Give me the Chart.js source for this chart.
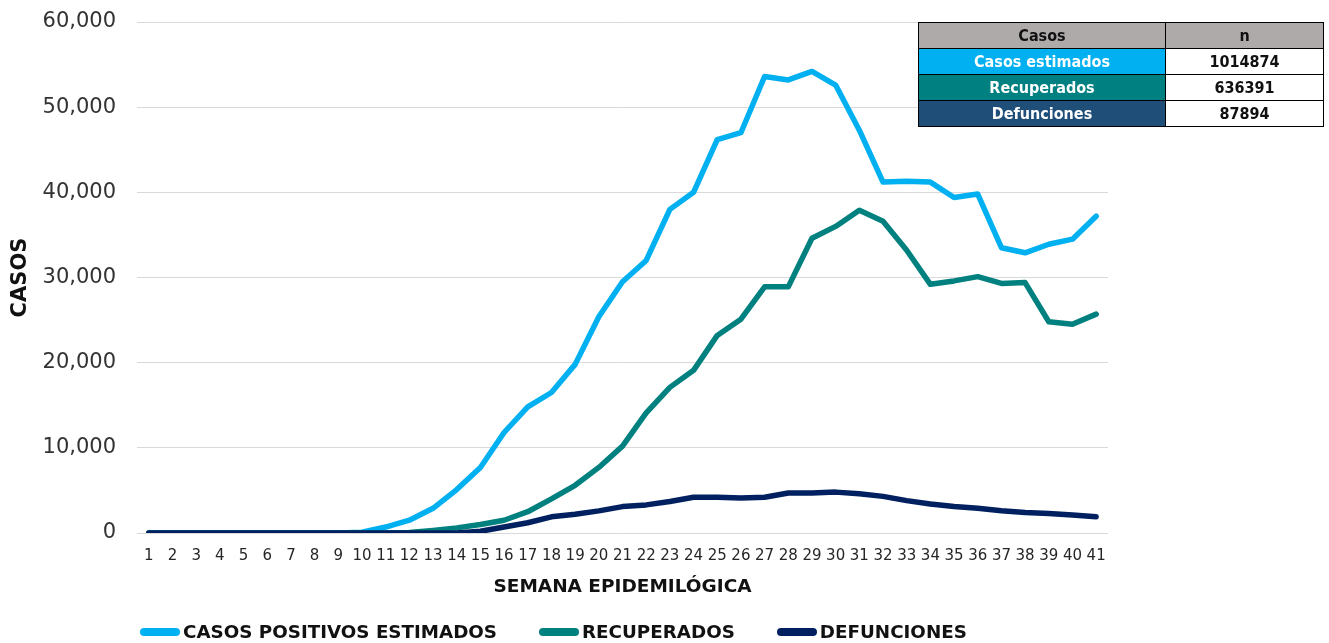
<!DOCTYPE html>
<html lang="es">
<head>
<meta charset="utf-8">
<title>Casos por semana epidemiológica</title>
<script src="https://cdn.jsdelivr.net/npm/chart.js@4/dist/chart.umd.min.js"></script>
<style>
    html, body { margin: 0; padding: 0; background: #fff; }
    #wrap { position: relative; width: 1329px; height: 643px; overflow: hidden; }
    #chart { position: absolute; left: 0; top: 0; }
    #resumen {
        position: absolute; left: 918px; top: 22px;
        border-collapse: collapse;
        font-family: "Liberation Sans Narrow", "DejaVu Sans Condensed", sans-serif;
        font-weight: bold; font-size: 16px;
    }
    #resumen td, #resumen th {
        border: 1px solid #000; height: 25px; padding: 0; text-align: center;
    }
    #resumen th { background: #aeaaaa; color: #111; font-weight: bold; }
    #resumen td.lbl { width: 246px; color: #fff; }
    #resumen td.val { width: 157px; color: #111; background: #fff; }
    #legend {
        position: absolute; left: 140px; top: 621px; display: flex;
        font-family: "DejaVu Sans", sans-serif;
        font-weight: bold; font-size: 18.3px; color: #111;
    }
    .item { display: flex; align-items: center; margin-right: 42px; }
    .swatch { width: 40px; height: 8px; border-radius: 4px; margin-right: 3px; }
</style>
</head>
<body>
<div id="wrap">
    <canvas id="chart" width="1329" height="643"></canvas>
    <table id="resumen"></table>
    <div id="legend"></div>
</div>
<script>
// Semanas epidemiológicas (etiquetas del eje x)
const semanas = ['1', '2', '3', '4', '5', '6', '7', '8', '9', '10',
    '11', '12', '13', '14', '15', '16', '17', '18', '19', '20',
    '21', '22', '23', '24', '25', '26', '27', '28', '29', '30',
    '31', '32', '33', '34', '35', '36', '37', '38', '39', '40', '41'];

const casosEstimados = [0, 0, 0, 0, 0, 0, 0, 0, 0, 100,
    700, 1500, 2900, 5100, 7700, 11800, 14800, 16500, 19800, 25400,
    29500, 32000, 38000, 40000, 46200, 47000, 53600, 53200, 54200, 52600,
    47300, 41200, 41300, 41200, 39400, 39800, 33500, 32900, 33900, 34500, 37200];

const recuperados = [0, 0, 0, 0, 0, 0, 0, 0, 0, 0,
    0, 50, 300, 600, 1000, 1500, 2500, 4000, 5600, 7700,
    10200, 14100, 17100, 19100, 23200, 25100, 28900, 28900, 34600, 36000,
    37900, 36600, 33200, 29200, 29600, 30100, 29300, 29400, 24800, 24500, 25700];

const defunciones = [0, 0, 0, 0, 0, 0, 0, 0, 0, 0,
    0, 0, 0, 0, 200, 700, 1200, 1900, 2200, 2600,
    3100, 3300, 3700, 4200, 4200, 4100, 4200, 4700, 4700, 4800,
    4600, 4300, 3800, 3400, 3100, 2900, 2600, 2400, 2300, 2100, 1900];

const yTicks = [0, 10000, 20000, 30000, 40000, 50000, 60000];

// Tabla resumen
const tablaEtiquetas = ['Casos estimados', 'Recuperados', 'Defunciones'];
const tablaValores = [1014874, 636391, 87894];
const tablaColores = ['#00b0f0', '#008080', '#1f4e79'];

const series = [
    { label: 'CASOS POSITIVOS ESTIMADOS', data: casosEstimados, color: '#00b0f0', order: 3 },
    { label: 'RECUPERADOS', data: recuperados, color: '#00807f', order: 2 },
    { label: 'DEFUNCIONES', data: defunciones, color: '#002060', order: 1 },
];

document.addEventListener('DOMContentLoaded', () => {
    buildTable();
    buildLegend();
    buildChart();
});

function buildTable() {
    const table = document.getElementById('resumen');
    let html = '<tr><th>Casos</th><th>n</th></tr>';
    tablaEtiquetas.forEach((lbl, i) => {
        html += `<tr><td class="lbl" style="background:${tablaColores[i]}">${lbl}</td>` +
                `<td class="val">${tablaValores[i]}</td></tr>`;
    });
    table.innerHTML = html;
}

function buildLegend() {
    document.getElementById('legend').innerHTML = series.map(s => `
        <div class="item"><span class="swatch" style="background:${s.color}"></span>${s.label}</div>
    `).join('');
}

function buildChart() {
    const ctx = document.getElementById('chart');
    new Chart(ctx, {
        type: 'line',
        data: {
            labels: semanas,
            datasets: series.map(s => ({
                label: s.label,
                data: s.data,
                borderColor: s.color,
                backgroundColor: s.color,
                borderWidth: 5.5,
                borderCapStyle: 'round',
                borderJoinStyle: 'round',
                pointRadius: 0,
                tension: 0,
                order: s.order,
            }))
        },
        options: {
            responsive: false,
            animation: false,
            layout: { padding: { top: 22, right: 221, left: 0, bottom: 0 } },
            plugins: {
                legend: { display: false },
                tooltip: { enabled: false },
            },
            scales: {
                x: {
                    offset: true,
                    afterFit: scale => { scale.height = 110; },
                    grid: { display: false },
                    border: { display: false },
                    ticks: {
                        autoSkip: false,
                        maxRotation: 0,
                        padding: 6,
                        color: '#262626',
                        font: { family: 'DejaVu Sans', size: 15 },
                    },
                    title: {
                        display: true,
                        text: 'SEMANA EPIDEMILÓGICA',
                        color: '#111',
                        font: { family: 'DejaVu Sans', size: 18.5, weight: 'bold' },
                        padding: { top: 0, bottom: 45 },
                    }
                },
                y: {
                    min: 0,
                    max: 60000,
                    afterFit: scale => { scale.width = 137; },
                    afterBuildTicks: scale => { scale.ticks = yTicks.map(v => ({ value: v })); },
                    // tick marks kept invisible; their length spaces the labels off the plot
                    grid: { color: '#d9d9d9', lineWidth: 1, drawTicks: true, tickLength: 21, tickColor: 'rgba(0,0,0,0)' },
                    border: { display: false },
                    ticks: {
                        padding: 0,
                        color: '#333',
                        font: { family: 'DejaVu Sans', size: 21 },
                        callback: v => v.toLocaleString('en-US'),
                    },
                    title: {
                        display: true,
                        text: 'CASOS',
                        color: '#111',
                        font: { family: 'DejaVu Sans', size: 21, weight: 'bold' },
                        padding: { top: 8, bottom: 0 },
                    }
                }
            }
        }
    });
}
</script>
</body>
</html>
